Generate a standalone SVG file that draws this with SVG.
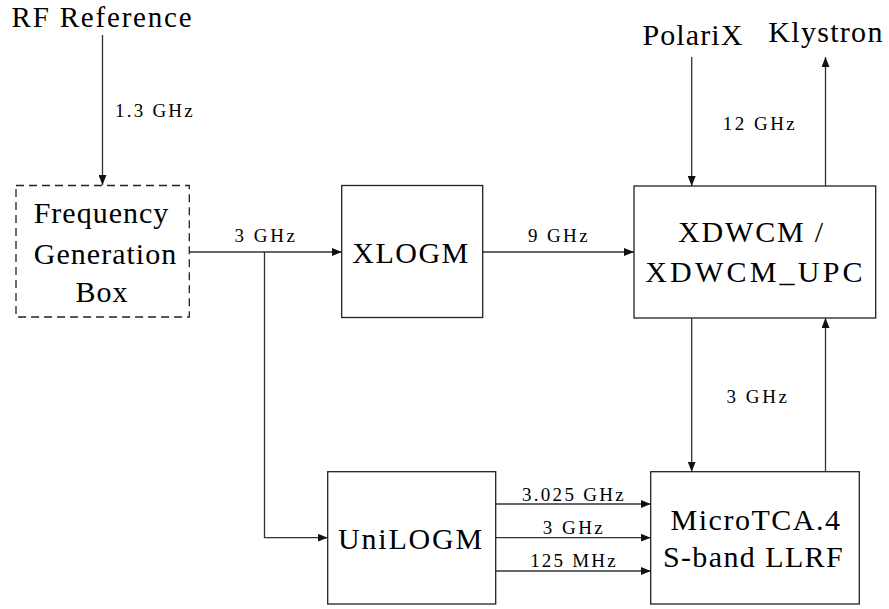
<svg xmlns="http://www.w3.org/2000/svg" width="889" height="609" viewBox="0 0 889 609">
<style>
.box{fill:#fff;stroke:#222;stroke-width:1.3}
.dash{stroke-dasharray:8 5}
.wire{fill:none;stroke:#333;stroke-width:1.3}
</style>
<defs>
<marker id="ah" viewBox="0 0 10 8" refX="10" refY="4" markerWidth="10" markerHeight="8" markerUnits="userSpaceOnUse" orient="auto">
<path d="M0,0 L10,4 L0,8 Z" fill="#111"/>
</marker>
</defs>
<rect width="889" height="609" fill="#fff"/>
<g id="connectors">
<path class="wire" d="M102.5,35 V185" marker-end="url(#ah)"/>
<path class="wire" d="M189.3,252 H341.7" marker-end="url(#ah)"/>
<path class="wire" d="M264.5,252 V537.7 H327.7" marker-end="url(#ah)"/>
<path class="wire" d="M482.7,252 H634" marker-end="url(#ah)"/>
<path class="wire" d="M691.7,57 V186" marker-end="url(#ah)"/>
<path class="wire" d="M825.5,186 V57" marker-end="url(#ah)"/>
<path class="wire" d="M691.7,318 V471.7" marker-end="url(#ah)"/>
<path class="wire" d="M825.5,471.7 V318" marker-end="url(#ah)"/>
<path class="wire" d="M495.7,504 H650.7" marker-end="url(#ah)"/>
<path class="wire" d="M495.7,537.7 H650.7" marker-end="url(#ah)"/>
<path class="wire" d="M495.7,571 H650.7" marker-end="url(#ah)"/>
<text x="155" y="117" font-family="Liberation Serif, Times New Roman, DejaVu Serif, serif" font-size="19" text-anchor="middle" letter-spacing="2.2">1.3 GHz</text>
<text x="266" y="241.5" font-family="Liberation Serif, Times New Roman, DejaVu Serif, serif" font-size="19" text-anchor="middle" letter-spacing="2.6">3 GHz</text>
<text x="559" y="241.5" font-family="Liberation Serif, Times New Roman, DejaVu Serif, serif" font-size="19" text-anchor="middle" letter-spacing="2.4">9 GHz</text>
<text x="760" y="130" font-family="Liberation Serif, Times New Roman, DejaVu Serif, serif" font-size="19" text-anchor="middle" letter-spacing="2.5">12 GHz</text>
<text x="758" y="402.5" font-family="Liberation Serif, Times New Roman, DejaVu Serif, serif" font-size="19" text-anchor="middle" letter-spacing="2.6">3 GHz</text>
<text x="574" y="500.5" font-family="Liberation Serif, Times New Roman, DejaVu Serif, serif" font-size="19" text-anchor="middle" letter-spacing="2.3">3.025 GHz</text>
<text x="574" y="534" font-family="Liberation Serif, Times New Roman, DejaVu Serif, serif" font-size="19" text-anchor="middle" letter-spacing="2.5">3 GHz</text>
<text x="574" y="567" font-family="Liberation Serif, Times New Roman, DejaVu Serif, serif" font-size="19" text-anchor="middle" letter-spacing="2.2">125 MHz</text>
</g>
<g id="rf-reference">
<text x="102.5" y="27" font-family="Liberation Serif, Times New Roman, DejaVu Serif, serif" font-size="29" text-anchor="middle" letter-spacing="1.8">RF Reference</text>
</g>
<g id="polarix">
<text x="693" y="45" font-family="Liberation Serif, Times New Roman, DejaVu Serif, serif" font-size="30" text-anchor="middle" letter-spacing="1.1">PolariX</text>
</g>
<g id="klystron">
<text x="826" y="42" font-family="Liberation Serif, Times New Roman, DejaVu Serif, serif" font-size="30" text-anchor="middle" letter-spacing="1.3">Klystron</text>
</g>
<g id="frequency-generation-box">
<rect class="box dash" x="16" y="185.5" width="173.3" height="131.5"/>
<text x="101.5" y="223" font-family="Liberation Serif, Times New Roman, DejaVu Serif, serif" font-size="30" text-anchor="middle" letter-spacing="1">Frequency</text>
<text x="105.5" y="264" font-family="Liberation Serif, Times New Roman, DejaVu Serif, serif" font-size="30" text-anchor="middle" letter-spacing="1">Generation</text>
<text x="102" y="301.5" font-family="Liberation Serif, Times New Roman, DejaVu Serif, serif" font-size="30" text-anchor="middle" letter-spacing="1">Box</text>
</g>
<g id="xlogm">
<rect class="box" x="341.7" y="185.5" width="141" height="132"/>
<text x="411" y="263" font-family="Liberation Serif, Times New Roman, DejaVu Serif, serif" font-size="30" text-anchor="middle" letter-spacing="1.5">XLOGM</text>
</g>
<g id="xdwcm">
<rect class="box" x="634" y="186" width="241.7" height="132"/>
<text x="751.5" y="242" font-family="Liberation Serif, Times New Roman, DejaVu Serif, serif" font-size="30" text-anchor="middle" letter-spacing="1.8">XDWCM /</text>
<text x="755.5" y="281.5" font-family="Liberation Serif, Times New Roman, DejaVu Serif, serif" font-size="30" text-anchor="middle" letter-spacing="3.2">XDWCM_UPC</text>
</g>
<g id="unilogm">
<rect class="box" x="327.7" y="471.7" width="168" height="132.3"/>
<text x="411" y="549" font-family="Liberation Serif, Times New Roman, DejaVu Serif, serif" font-size="30" text-anchor="middle" letter-spacing="1.8">UniLOGM</text>
</g>
<g id="microtca">
<rect class="box" x="650.7" y="471.7" width="208.6" height="132.3"/>
<text x="756" y="530" font-family="Liberation Serif, Times New Roman, DejaVu Serif, serif" font-size="30" text-anchor="middle" letter-spacing="1.5">MicroTCA.4</text>
<text x="753.5" y="567" font-family="Liberation Serif, Times New Roman, DejaVu Serif, serif" font-size="30" text-anchor="middle" letter-spacing="1.4">S-band LLRF</text>
</g>
</svg>
